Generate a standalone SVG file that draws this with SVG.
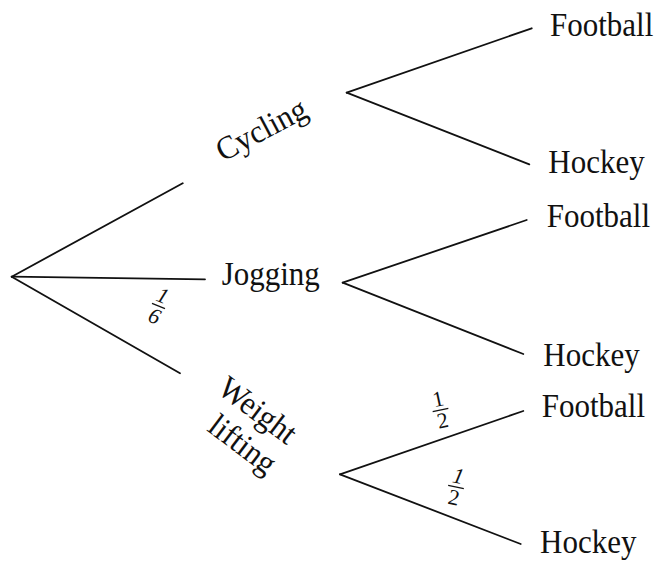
<svg xmlns="http://www.w3.org/2000/svg" width="657" height="564" viewBox="0 0 657 564">
<style>
.lbl{font-family:"Liberation Serif","Times New Roman",serif;font-size:31px;fill:#111}
.frac{font-family:"Liberation Serif","Times New Roman",serif;font-size:22px;fill:#111;text-anchor:middle;font-style:italic}
.up{font-style:normal}
.ln{stroke:#111;stroke-width:1.8;fill:none;stroke-linecap:round}
.bar{stroke:#111;stroke-width:1.3}
</style>
<rect width="657" height="564" fill="#fff"/>
<g id="connectors">
<line class="ln" x1="11.7" y1="276.7" x2="182.7" y2="183.3"/>
<line class="ln" x1="11.7" y1="276.7" x2="205" y2="279.3"/>
<line class="ln" x1="11.7" y1="276.7" x2="180" y2="373.3"/>
<line class="ln" x1="346.7" y1="92.7" x2="531.7" y2="28.3"/>
<line class="ln" x1="346.7" y1="92.7" x2="529.3" y2="164.3"/>
<line class="ln" x1="342.7" y1="282.7" x2="526.7" y2="220"/>
<line class="ln" x1="342.7" y1="282.7" x2="523.3" y2="354"/>
<line class="ln" x1="340" y1="474.3" x2="523.3" y2="411"/>
<line class="ln" x1="340" y1="474.3" x2="520.7" y2="544"/>
</g>
<g id="frac-jogging" transform="translate(158.5,306) rotate(22)">
<text class="frac" x="0" y="-4">1</text>
<line class="bar" x1="-7" y1="0" x2="7" y2="0"/>
<text class="frac" x="0" y="18">6</text>
</g>
<g id="frac-wl-football" transform="translate(440.5,410) rotate(-12)">
<text class="frac up" x="0" y="-4">1</text>
<line class="bar" x1="-8" y1="0" x2="8" y2="0"/>
<text class="frac up" x="0" y="18">2</text>
</g>
<g id="frac-wl-hockey" transform="translate(456,487) rotate(12)">
<text class="frac" x="0" y="-4">1</text>
<line class="bar" x1="-8" y1="0" x2="8" y2="0"/>
<text class="frac up" x="0" y="18">2</text>
</g>
<g id="node-cycling"><text class="lbl" transform="translate(223,162) rotate(-28) scale(1,1.05)">Cycling</text></g>
<g id="node-jogging"><text class="lbl" transform="translate(221.7,285) scale(1,1.1)">Jogging</text></g>
<g id="node-weightlifting">
<text class="lbl" transform="translate(216,392) rotate(37) scale(1,1.05)">Weight</text>
<text class="lbl" transform="translate(206,430) rotate(37) scale(1,1.05)">lifting</text>
</g>
<g id="node-c-football"><text class="lbl" transform="translate(550,36) scale(1,1.1)">Football</text></g>
<g id="node-c-hockey"><text class="lbl" transform="translate(548.3,173.3) scale(1,1.1)">Hockey</text></g>
<g id="node-j-football"><text class="lbl" transform="translate(546.7,226.7) scale(1,1.1)">Football</text></g>
<g id="node-j-hockey"><text class="lbl" transform="translate(543.3,366) scale(1,1.1)">Hockey</text></g>
<g id="node-w-football"><text class="lbl" transform="translate(541.7,416.7) scale(1,1.1)">Football</text></g>
<g id="node-w-hockey"><text class="lbl" transform="translate(540,552.7) scale(1,1.1)">Hockey</text></g>
</svg>
